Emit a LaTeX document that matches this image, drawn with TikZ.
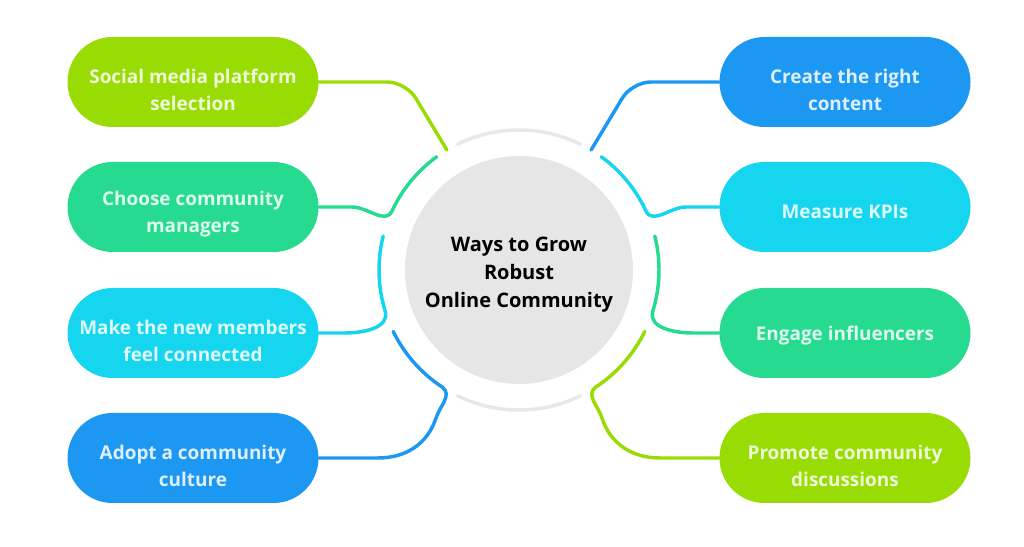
\documentclass[tikz,border=0pt]{standalone}
\usepackage{fontspec}
\setmainfont{Open Sans}
\usetikzlibrary{calc}
\definecolor{limeC}{HTML}{98DC04}
\definecolor{mintC}{HTML}{26DB8F}
\definecolor{cyanC}{HTML}{16D5EE}
\definecolor{blueC}{HTML}{1C98F2}
\definecolor{hubC}{HTML}{E6E6E6}
\definecolor{gapC}{HTML}{E8E8E8}
\newcommand\dropline[1]{\rule{0pt}{#1}}
\tikzset{
	pill/.style={fill=#1, text=white!85!#1, rounded corners=33.75pt, minimum width=188.25pt, minimum height=67.5pt, inner sep=0pt, align=center, font=\fontsize{14.2pt}{20.25pt}\selectfont\bfseries},
	link/.style={draw=#1, line width=2.6pt, line cap=round},
	gap/.style={draw=gapC, line width=2.6pt, line cap=round}
}
\begin{document}
\begin{tikzpicture}[x=0.75pt,y=0.75pt]
		\useasboundingbox (0,0) rectangle (1024,546);
		\node[circle, fill=hubC, minimum size=171pt, inner sep=0pt, align=center, font=\fontsize{15pt}{21pt}\selectfont\bfseries] (hub) at (519,276) {\dropline{17.5pt}Ways to Grow\\Robust\\Online Community};
		\node[pill=limeC] (social) at (193,464) {\dropline{22pt}Social media platform\\selection};
		\node[pill=mintC] (managers) at (193,339) {\dropline{22pt}Choose community\\managers};
		\node[pill=cyanC] (members) at (193,213) {\dropline{22pt}Make the new members\\feel connected};
		\node[pill=blueC] (culture) at (193,88) {\dropline{22pt}Adopt a community\\culture};
		\node[pill=blueC] (content) at (845,464) {\dropline{22pt}Create the right\\content};
		\node[pill=cyanC] (kpis) at (845,339) {\dropline{18pt}Measure KPIs};
		\node[pill=mintC] (influencers) at (845,213) {\dropline{15pt}Engage influencers};
		\node[pill=limeC] (discussions) at (845,88) {\dropline{22pt}Promote community\\discussions};
		\coordinate (g1) at ($(hub)+(64:140)$);
		\coordinate (g2) at ($(hub)+(244:140)$);
		\coordinate (r121) at ($(hub)+(121:140)$);
		\coordinate (r155) at ($(hub)+(155:140)$);
		\coordinate (r197) at ($(hub)+(197:140)$);
		\coordinate (r237) at ($(hub)+(237:140)$);
		\coordinate (r59) at ($(hub)+(59:140)$);
		\coordinate (r25) at ($(hub)+(25:140)$);
		\coordinate (r-17) at ($(hub)+(-17:140)$);
		\coordinate (r-57) at ($(hub)+(-57:140)$);
		\draw[gap] (g1) arc[start angle=64, end angle=116, radius=140];
		\draw[gap] (g2) arc[start angle=244, end angle=296, radius=140];
		\draw[link=limeC, rounded corners=14pt] (social.east) -- (406,464) -- (r121);
		\draw[link=mintC] (managers.east) -- (352,339) to[out=0,in=245] (r155) arc[start angle=155, end angle=126, radius=140];
		\draw[link=cyanC] (members.east) -- (345,213) to[out=0,in=287] (r197) arc[start angle=197, end angle=166, radius=140];
		\draw[link=blueC] (culture.east) -- (378,88) to[out=0,in=-108] (436,128) to[out=72,in=-40] (r237) arc[start angle=237, end angle=206, radius=140];
		\draw[link=blueC, rounded corners=14pt] (content.west) -- (632,464) -- (r59);
		\draw[link=cyanC] (kpis.west) -- (686,339) to[out=180,in=-65] (r25) arc[start angle=25, end angle=54, radius=140];
		\draw[link=mintC] (influencers.west) -- (693,213) to[out=180,in=253] (r-17) arc[start angle=-17, end angle=14, radius=140];
		\draw[link=limeC] (discussions.west) -- (660,88) to[out=180,in=-72] (602,128) to[out=108,in=220] (r-57) arc[start angle=-57, end angle=-26, radius=140];
	\end{tikzpicture}
\end{document}
